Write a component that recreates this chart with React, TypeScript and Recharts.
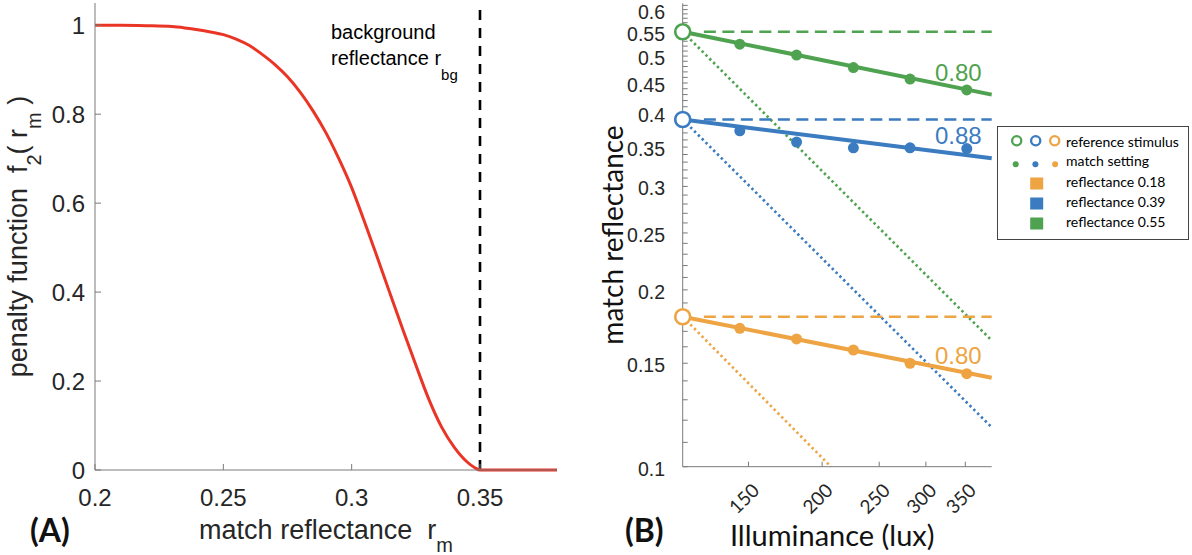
import React from 'react';
import { LineChart, ComposedChart, Line, Scatter, XAxis, YAxis, ReferenceLine, Label } from 'recharts';

// ---- panel A: penalty function ----
const matchRefl = [0.2, 0.21, 0.22, 0.23, 0.235, 0.24, 0.245, 0.25, 0.255, 0.26, 0.265, 0.27, 0.275, 0.28, 0.285, 0.29, 0.295, 0.3, 0.305, 0.31, 0.315, 0.32, 0.325, 0.33, 0.335, 0.34, 0.345, 0.348, 0.35, 0.36, 0.37, 0.38];
const penalty = [1, 1, 0.999, 0.997, 0.994, 0.99, 0.985, 0.979, 0.969, 0.955, 0.935, 0.912, 0.884, 0.849, 0.807, 0.758, 0.7, 0.635, 0.558, 0.478, 0.396, 0.315, 0.236, 0.16, 0.097, 0.051, 0.018, 0.005, 0, 0, 0, 0];
const reflTicksA = [0.2, 0.25, 0.3, 0.35];
const penaltyTicks = [0, 0.2, 0.4, 0.6, 0.8, 1];
const bgRefl = 0.35;

// ---- panel B: matches vs illuminance ----
const refIllum = 116;
const endIllum = 388;
const dashStartIllum = 126;
const matchIllum = [145, 181, 226, 282, 352];
const matchOrange = [0.172, 0.165, 0.158, 0.15, 0.144];
const matchBlue = [0.373, 0.357, 0.349, 0.349, 0.348];
const matchGreen = [0.524, 0.502, 0.478, 0.457, 0.438];
const refRefl = [0.18, 0.39, 0.55]; // orange, blue, green
const fitEnd = [0.1417, 0.335, 0.43];
const dotEndIllum = [207, 388, 388];
const dotEndRefl = [0.1, 0.1167, 0.164];
const constancy = ['0.80', '0.88', '0.80'];
const illumTicks = [150, 200, 250, 300, 350];
const reflTicksB = [0.1, 0.11, 0.12, 0.13, 0.14, 0.15, 0.16, 0.17, 0.18, 0.19, 0.2, 0.21, 0.22, 0.23, 0.24, 0.25, 0.26, 0.27, 0.28, 0.29, 0.3, 0.31, 0.32, 0.33, 0.34, 0.35, 0.36, 0.37, 0.38, 0.39, 0.4, 0.41, 0.42, 0.43, 0.44, 0.45, 0.46, 0.47, 0.48, 0.49, 0.5, 0.51, 0.52, 0.53, 0.54, 0.55, 0.56, 0.57, 0.58, 0.59, 0.6, 0.61];
const reflLabelsB = [0.1, 0.15, 0.2, 0.25, 0.3, 0.35, 0.4, 0.45, 0.5, 0.55, 0.6];
const legendLabels = ['reference stimulus', 'match setting', 'reflectance 0.18', 'reflectance 0.39', 'reflectance 0.55'];

const RED = '#ea3526';
const ORANGE = '#eea443';
const BLUE = '#3b7bbf';
const GREEN = '#4fa24f';
const COLORS = [ORANGE, BLUE, GREEN];
const AXIS = '#7a7a7a';
const TXT = '#262626';
const HELV = '"Liberation Sans", Arial, Helvetica, sans-serif';
const CALI = 'Lato, "Open Sans", sans-serif';

const curveData = matchRefl.map((r, i) => ({ r, f: penalty[i] }));

const groups = refRefl.map((ref, i) => ({
  ref,
  color: COLORS[i],
  match: [matchOrange, matchBlue, matchGreen][i].map((y, j) => ({ x: matchIllum[j], y })),
  fit: [{ x: refIllum, y: ref }, { x: endIllum, y: fitEnd[i] }],
  dash: [{ x: dashStartIllum, y: ref }, { x: endIllum, y: ref }],
  dot: [{ x: refIllum, y: ref }, { x: dotEndIllum[i], y: dotEndRefl[i] }],
  refPt: [{ x: refIllum, y: ref }],
  tag: [{ x: endIllum, y: fitEnd[i], t: constancy[i] }],
}));

const PenaltyLabel = (props: any) => {
  const vb = props.viewBox;
  const cy = vb.y + vb.height / 2;
  return (
    <text transform={`translate(27, ${cy}) rotate(-90)`} textAnchor="middle" fontSize={27} fontFamily={HELV} fill={TXT} style={{ whiteSpace: 'pre' }}>
      <tspan>penalty function  f</tspan>
      <tspan dy={14} fontSize={20}>2</tspan>
      <tspan dy={-14}>( r</tspan>
      <tspan dy={14} fontSize={20}>m</tspan>
      <tspan dy={-14}> )</tspan>
    </text>
  );
};

const MatchReflLabel = (props: any) => {
  const vb = props.viewBox;
  return (
    <text x={vb.x + vb.width / 2} y={539} textAnchor="middle" fontSize={27} fontFamily={HELV} fill={TXT} style={{ whiteSpace: 'pre' }}>
      <tspan>match reflectance  r</tspan>
      <tspan dy={13} fontSize={20}>m</tspan>
    </text>
  );
};

const BgLabel = (props: any) => {
  const vb = props.viewBox;
  const x = vb.x - 149;
  return (
    <text fontSize={20} fontFamily={HELV} fill="#000">
      <tspan x={x} y={39}>background</tspan>
      <tspan x={x} y={65}>reflectance r</tspan>
      <tspan dy={15} fontSize={15}>bg</tspan>
    </text>
  );
};

const BYLabel = (props: any) => {
  const vb = props.viewBox;
  const cy = vb.y + vb.height / 2;
  return (
    <text transform={`translate(63, ${cy}) rotate(-90)`} textAnchor="middle" fontSize={28} fontFamily={CALI} fill="#111">
      match reflectance
    </text>
  );
};

const BXLabel = (props: any) => {
  const vb = props.viewBox;
  return (
    <text x={vb.x + vb.width / 2 - 5} y={546} textAnchor="middle" fontSize={29} fontFamily={CALI} fill="#111">
      Illuminance (lux)
    </text>
  );
};

const RotTick = (props: any) => {
  const { x, y, payload } = props;
  return (
    <text transform={`translate(${x + 12}, ${y}) rotate(-45)`} textAnchor="end" fontSize={19} fontFamily={CALI} fill={TXT}>
      {payload.value}
    </text>
  );
};

const isMajorB = (v: number) => reflLabelsB.some((l) => Math.abs(l - v) < 1e-9);

const ReflTickB = (props: any) => {
  const { x, y, payload } = props;
  if (!isMajorB(payload.value)) return <g />;
  return (
    <text x={x} y={y + 9} textAnchor="end" fontSize={19.5} fontFamily={HELV} fill={TXT}>
      {String(payload.value)}
    </text>
  );
};

function PanelA() {
  return (
    <LineChart width={560} height={555} data={curveData} margin={{ top: 3, right: 3, bottom: 45, left: 35 }}>
      <XAxis dataKey="r" type="number" domain={[0.2, 0.38]} ticks={reflTicksA} interval={0} height={40}
        tickSize={-6} tickMargin={25} stroke={AXIS} tick={{ fill: TXT, fontSize: 24, fontFamily: HELV }}>
        <Label content={MatchReflLabel} />
      </XAxis>
      <XAxis xAxisId="top" orientation="top" type="number" domain={[0.2, 0.38]} ticks={reflTicksA} interval={0}
        height={0} tickSize={-6} tick={false} stroke={AXIS} />
      <YAxis type="number" domain={[0, 1.05]} ticks={penaltyTicks} interval={0} width={60}
        tickSize={-6} tickMargin={16} stroke={AXIS} tick={{ fill: TXT, fontSize: 24, fontFamily: HELV }}>
        <Label content={PenaltyLabel} />
      </YAxis>
      <YAxis yAxisId="right" orientation="right" type="number" domain={[0, 1.05]} ticks={penaltyTicks} interval={0}
        width={0} tickSize={-6} tick={false} stroke={AXIS} />
      <ReferenceLine x={bgRefl} stroke="#000" strokeWidth={2.6} strokeDasharray="10 8">
        <Label content={BgLabel} />
      </ReferenceLine>
      <Line dataKey="f" type="monotone" stroke={RED} strokeWidth={3} dot={false} activeDot={false} isAnimationActive={false} />
    </LineChart>
  );
}

function PanelB() {
  return (
    <ComposedChart width={632} height={555} margin={{ top: 3.3, right: 200.3, bottom: 38.3, left: 52.7 }}>
      <XAxis dataKey="x" type="number" scale="log" domain={[refIllum, endIllum]} ticks={illumTicks} interval={0}
        height={50} tickSize={-5} tickMargin={30} stroke={AXIS} tick={RotTick}>
        <Label content={BXLabel} />
      </XAxis>
      <XAxis xAxisId="top" orientation="top" type="number" scale="log" domain={[refIllum, endIllum]} ticks={illumTicks}
        interval={0} height={0} tickSize={-5} tick={false} stroke={AXIS} />
      <YAxis dataKey="y" type="number" scale="log" domain={[0.1, 0.615]} ticks={reflTicksB} interval={0} width={70}
        tickSize={-5} tickMargin={22.7} stroke={AXIS} tick={ReflTickB}>
        <Label content={BYLabel} />
      </YAxis>
      <YAxis yAxisId="right" orientation="right" type="number" scale="log" domain={[0.1, 0.615]} ticks={reflTicksB}
        interval={0} width={0} tickSize={-5} tick={false} stroke={AXIS} />
      {groups.map((g, i) => (
        <Line key={`dot${i}`} data={g.dot} dataKey="y" type="linear" stroke={g.color} strokeWidth={2.7}
          strokeDasharray="2.4 3" dot={false} activeDot={false} isAnimationActive={false} />
      ))}
      {groups.map((g, i) => (
        <Line key={`dash${i}`} data={g.dash} dataKey="y" type="linear" stroke={g.color} strokeWidth={2.6}
          strokeDasharray="12 6.5" dot={false} activeDot={false} isAnimationActive={false} />
      ))}
      {groups.map((g, i) => (
        <Line key={`fit${i}`} data={g.fit} dataKey="y" type="linear" stroke={g.color} strokeWidth={4}
          dot={false} activeDot={false} isAnimationActive={false} />
      ))}
      {groups.map((g, i) => (
        <Scatter key={`m${i}`} data={g.match} dataKey="y" fill={g.color} isAnimationActive={false}
          shape={(p: any) => <circle cx={p.cx} cy={p.cy} r={5.5} fill={g.color} />} />
      ))}
      {groups.map((g, i) => (
        <Scatter key={`r${i}`} data={g.refPt} dataKey="y" fill={g.color} isAnimationActive={false}
          shape={(p: any) => <circle cx={p.cx} cy={p.cy} r={7.5} fill="#fff" stroke={g.color} strokeWidth={2.6} />} />
      ))}
      {groups.map((g, i) => (
        <Scatter key={`t${i}`} data={g.tag} dataKey="y" fill={g.color} isAnimationActive={false}
          shape={(p: any) => (
            <text x={p.cx - 10} y={p.cy - 14} textAnchor="end" fontSize={24} fontFamily={HELV} fill={g.color}>
              {p.payload.t}
            </text>
          )} />
      ))}
    </ComposedChart>
  );
}

function LegendBox() {
  const rowY = [15.7, 35, 55.7, 75.7, 95.7];
  return (
    <svg width={193} height={115} style={{ position: 'absolute', left: 997, top: 126 }}>
      <rect x={0.5} y={0.5} width={191} height={113} fill="#fff" stroke="#444" strokeWidth={1} />
      {COLORS.slice().reverse().map((c, i) => (
        <circle key={`lc${i}`} cx={19.7 + i * 19} cy={14.7} r={4.6} fill="none" stroke={c} strokeWidth={2.3} />
      ))}
      {COLORS.slice().reverse().map((c, i) => (
        <circle key={`ld${i}`} cx={18.7 + i * 19.7} cy={38.3} r={3} fill={c} />
      ))}
      {COLORS.map((c, i) => (
        <rect key={`ls${i}`} x={33.2} y={51.5 + i * 20} width={13} height={12} fill={c} />
      ))}
      {legendLabels.map((t, i) => (
        <text key={`lt${i}`} x={69} y={rowY[i] + 5} fontSize={14} fontFamily={CALI} fill="#000">{t}</text>
      ))}
    </svg>
  );
}

export default function App() {
  return (
    <div style={{ position: 'absolute', left: 0, top: 0, width: 1192, height: 555, background: '#fff', overflow: 'hidden' }}>
      <div style={{ position: 'absolute', left: 0, top: 0 }}>
        <PanelA />
      </div>
      <div style={{ position: 'absolute', left: 560, top: 0 }}>
        <PanelB />
      </div>
      <LegendBox />
      <div style={{ position: 'absolute', left: 30, top: 510, fontFamily: CALI, fontWeight: 700, fontSize: 32, color: '#111' }}>(A)</div>
      <div style={{ position: 'absolute', left: 625, top: 510, fontFamily: CALI, fontWeight: 700, fontSize: 32, color: '#111' }}>(B)</div>
    </div>
  );
}
